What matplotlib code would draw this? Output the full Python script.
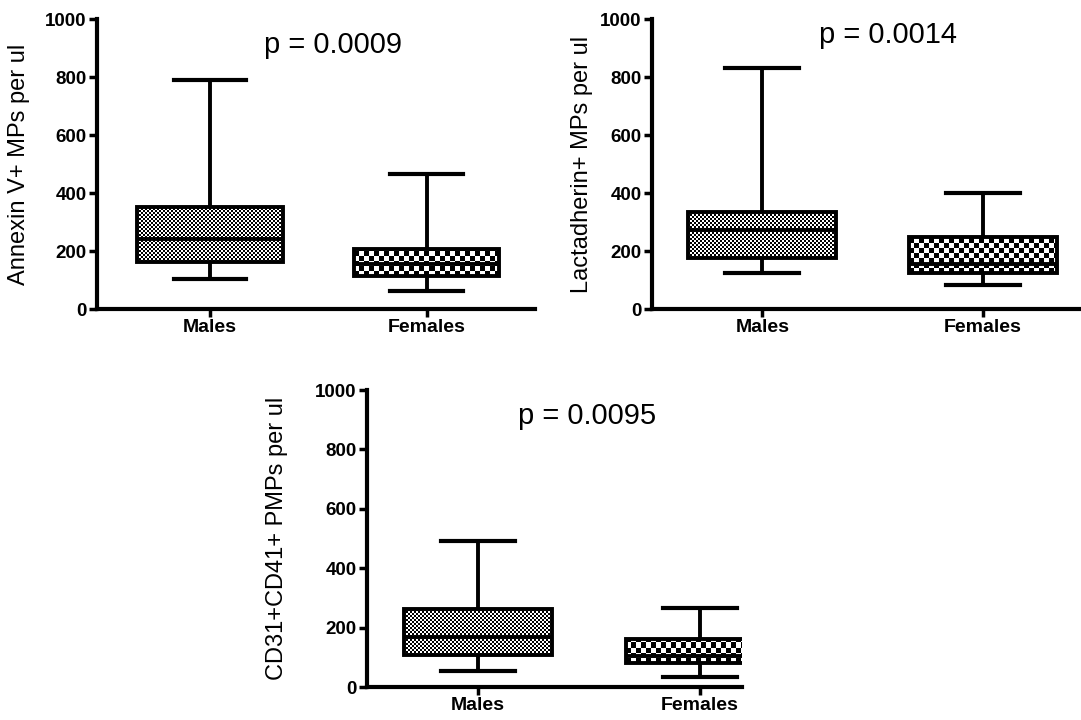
import numpy as np
import matplotlib
matplotlib.use("Agg")
from matplotlib import pyplot as plt

plt.rcParams['font.family'] = ['Liberation Sans', 'DejaVu Sans']

# --------------------------------------------------------------------------------------------------
# Data (whisker low, Q1, median, Q3, whisker high)
# --------------------------------------------------------------------------------------------------

groups = ['Males', 'Females']

annexin_males = [103, 162, 240, 351, 790]
annexin_females = [62, 114, 155, 207, 465]

lactadherin_males = [124, 176, 273, 333, 830]
lactadherin_females = [83, 124, 155, 250, 400]

pmp_males = [54, 108, 168, 263, 492]
pmp_females = [34, 81, 105, 162, 266]

ylabels = ['Annexin V+ MPs per ul', 'Lactadherin+ MPs per ul', 'CD31+CD41+ PMPs per ul']
pvalues = ['p = 0.0009', 'p = 0.0014', 'p = 0.0095']
yticks = [0, 200, 400, 600, 800, 1000]

# --------------------------------------------------------------------------------------------------
# Helpers
# --------------------------------------------------------------------------------------------------

def to_stats(values, label):
    lo, q1, med, q3, hi = values
    return dict(label=label, whislo=lo, q1=q1, med=med, q3=q3, whishi=hi, fliers=[])

def checker_fill(ax, patch, cell_px):
    # Fill a box patch with a black/white checkerboard, cells of cell_px pixels
    bb = patch.get_path().get_extents()
    (x0p, y0p), (x1p, y1p) = ax.transData.transform([[bb.x0, bb.y0], [bb.x1, bb.y1]])
    nx = int(np.ceil((x1p - x0p) / cell_px)) + 1
    ny = int(np.ceil((y1p - y0p) / cell_px)) + 1
    inv = ax.transData.inverted()
    (ex0, ey0), (ex1, ey1) = inv.transform([[x0p, y0p], [x0p + nx * cell_px, y0p + ny * cell_px]])
    board = np.add.outer(np.arange(ny), np.arange(nx)) % 2
    im = ax.imshow(board, cmap='gray', vmin=0, vmax=1, extent=(ex0, ex1, ey0, ey1),
                   origin='lower', aspect='auto', interpolation='nearest', zorder=2)
    im.set_clip_path(patch)

def draw_panel(ax, males, females, ylabel, ptext, xlim, label_x, ptext_xy):
    ax.set_xlim(*xlim)
    ax.set_ylim(0, 1000)
    stats = [to_stats(males, groups[0]), to_stats(females, groups[1])]
    art = ax.bxp(stats, positions=[1, 2], widths=0.67, showfliers=False, patch_artist=True,
                 boxprops=dict(facecolor='none', edgecolor='black', linewidth=2.8),
                 whiskerprops=dict(color='black', linewidth=2.8),
                 capprops=dict(color='black', linewidth=3),
                 medianprops=dict(color='black', linewidth=2.8))
    for b in art['boxes']:
        b.set_zorder(3)
    for m in art['medians']:
        m.set_zorder(4)
    checker_fill(ax, art['boxes'][0], 2)
    checker_fill(ax, art['boxes'][1], 5)
    ax.set_xlim(*xlim)
    ax.set_ylim(0, 1000)

    ax.spines['top'].set_visible(False)
    ax.spines['right'].set_visible(False)
    ax.spines['left'].set_linewidth(3)
    ax.spines['bottom'].set_linewidth(3)
    ax.set_yticks(yticks)
    ax.tick_params(axis='both', width=2.5, length=6, direction='out', pad=1.5)
    ax.tick_params(axis='y', labelsize=13.5)
    ax.tick_params(axis='x', labelsize=14)
    for t in ax.get_xticklabels() + ax.get_yticklabels():
        t.set_fontweight('bold')
    ax.set_ylabel(ylabel, fontsize=17)
    ax.yaxis.set_label_coords(label_x, 0.5)
    ax.text(ptext_xy[0], ptext_xy[1], ptext, transform=ax.transAxes, fontsize=21,
            ha='center', va='center')

# --------------------------------------------------------------------------------------------------
# Figure
# --------------------------------------------------------------------------------------------------

fig = plt.figure(figsize=(10.81, 7.2), dpi=100)
ax1 = fig.add_axes([0.0897, 0.5708, 0.405, 0.4028])
ax2 = fig.add_axes([0.6032, 0.5708, 0.396, 0.4028])
ax3 = fig.add_axes([0.3395, 0.0458, 0.347, 0.4125])

draw_panel(ax1, annexin_males, annexin_females, ylabels[0], pvalues[0],
           (0.479, 2.498), -0.153, (0.54, 0.91))
draw_panel(ax2, lactadherin_males, lactadherin_females, ylabels[1], pvalues[1],
           (0.50, 2.44), -0.138, (0.55, 0.945))
draw_panel(ax3, pmp_males, pmp_females, ylabels[2], pvalues[2],
           (0.50, 2.19), -0.21, (0.587, 0.912))

fig.savefig('out.png', dpi=100)
